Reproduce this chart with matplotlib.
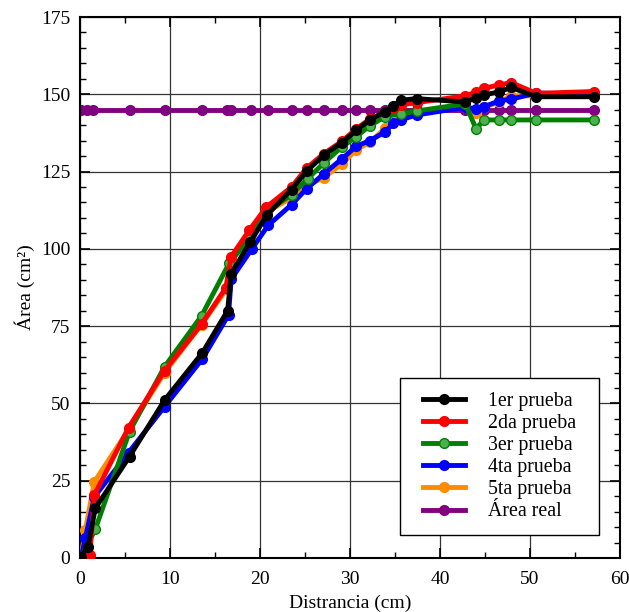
import matplotlib
matplotlib.use("Agg")
import matplotlib.pyplot as plt
from matplotlib.ticker import MultipleLocator
from matplotlib.patches import Rectangle

plt.rcParams['font.family'] = ['Liberation Serif', 'DejaVu Serif']

# 1er prueba
x1 = [0.1, 0.9, 1.7, 5.5, 9.4, 13.6, 16.4, 16.8, 18.9, 20.8, 23.5, 25.2, 27.1, 29.1,
      30.7, 32.2, 33.9, 34.8, 35.7, 37.4, 42.8, 44.0, 44.9, 46.6, 47.9, 50.7, 57.1]
y1 = [0.3, 3.7, 16.1, 32.8, 51.1, 66.4, 80.0, 91.9, 102.2, 111.0, 119.2, 125.2, 130.3, 134.4,
      138.3, 141.7, 144.4, 146.3, 148.1, 148.6, 147.5, 148.8, 149.8, 150.8, 152.2, 149.2, 149.2]
# 2da prueba
x2 = [0.2, 1.1, 1.6, 5.4, 9.4, 13.5, 16.2, 16.8, 18.8, 20.7, 23.5, 25.2, 27.1, 29.1,
      30.7, 32.2, 33.9, 34.8, 35.7, 37.4, 42.8, 44.0, 44.9, 46.6, 47.9, 50.7, 57.1]
y2 = [0.0, 1.0, 20.4, 42.2, 60.6, 75.6, 87.4, 97.5, 106.0, 113.5, 120.0, 126.2, 130.8, 134.8,
      138.8, 142.0, 144.2, 145.5, 146.6, 147.3, 149.5, 150.7, 152.0, 153.0, 153.8, 150.3, 150.9]
# 3er prueba
x3 = [0.1, 1.7, 5.5, 9.4, 13.5, 16.6, 18.9, 20.7, 23.5, 25.3, 27.1, 29.1,
      30.7, 32.2, 33.9, 35.7, 37.4, 42.8, 44.0, 44.9, 46.6, 47.9, 50.7, 57.1]
y3 = [0.0, 9.3, 40.9, 61.9, 78.3, 95.5, 103.5, 112.0, 117.5, 122.7, 127.8, 133.0,
      136.3, 139.8, 142.8, 143.7, 144.6, 146.9, 138.9, 141.7, 141.7, 141.7, 141.7, 141.7]
# 4ta prueba
x4 = [0.1, 0.6, 1.6, 5.4, 9.4, 13.6, 16.5, 16.8, 19.1, 20.9, 23.5, 25.2, 27.1, 29.1,
      30.7, 32.2, 33.9, 34.8, 35.7, 37.4, 42.8, 44.0, 44.9, 46.6, 47.9, 50.7, 57.1]
y4 = [0.0, 6.5, 19.8, 34.1, 49.0, 64.4, 78.6, 90.2, 100.0, 107.6, 114.3, 119.5, 124.3, 129.1,
      133.2, 135.0, 137.8, 140.6, 141.8, 143.3, 145.8, 145.3, 146.0, 147.9, 148.4, 150.4, 150.0]
# 5ta prueba
x5 = [0.1, 0.6, 1.6, 5.4, 9.4, 13.5, 16.3, 16.8, 19.0, 20.8, 23.5, 25.2, 27.1, 29.1,
      30.7, 32.2, 33.9, 35.7, 37.4, 42.8, 44.0, 44.9, 46.6, 47.9, 50.7, 57.1]
y5 = [0.0, 9.1, 24.7, 41.5, 60.0, 75.5, 87.0, 96.5, 104.5, 112.0, 116.5, 120.5, 123.0, 127.5,
      132.0, 134.5, 139.0, 143.2, 144.2, 146.0, 144.0, 145.8, 147.5, 149.5, 149.5, 150.0]
# Área real
x_real = [0.1, 0.8, 1.4, 5.6, 9.4, 13.6, 16.3, 16.8, 19.0, 20.9, 23.6, 25.2, 27.1, 29.1,
          30.7, 32.2, 33.9, 34.8, 35.7, 37.4, 42.8, 44.0, 44.9, 46.6, 47.9, 50.7, 57.1]
area_real = 145.0

fig = plt.figure(figsize=(6.29, 6.12), dpi=100)
ax = fig.add_axes([80/629, 1-558/612, 540/629, 541/612])

lw = 3.5
ms = 7
l6, = ax.plot(x_real, [area_real]*len(x_real), '-o', color='purple', lw=lw, ms=ms, zorder=2)
l5, = ax.plot(x5, y5, '-o', color='darkorange', lw=lw, ms=ms, zorder=3)
l4, = ax.plot(x4, y4, '-o', color='blue', lw=lw, ms=ms, zorder=4)
l3, = ax.plot(x3, y3, '-o', color='green', mfc='#4caf50', mec='green', lw=lw, ms=ms, zorder=5)
l2, = ax.plot(x2, y2, '-o', color='red', lw=lw, ms=ms, zorder=6)
l1, = ax.plot(x1, y1, '-o', color='black', lw=lw, ms=ms, zorder=7)

ax.set_xlim(0, 60)
ax.set_ylim(0, 175)
ax.xaxis.set_major_locator(MultipleLocator(10))
ax.xaxis.set_minor_locator(MultipleLocator(5))
ax.yaxis.set_major_locator(MultipleLocator(25))
ax.yaxis.set_minor_locator(MultipleLocator(5))
ax.tick_params(which='both', direction='in', top=True, right=True, labelsize=14)
ax.tick_params(which='major', length=7, width=1.2)
ax.tick_params(which='minor', length=4, width=1)
ax.tick_params(axis='x', which='major', pad=9)
ax.tick_params(axis='y', which='major', pad=7)
for s in ax.spines.values():
    s.set_linewidth(1.5)
ax.grid(True, which='major', color='#333333', lw=0.9)
ax.set_axisbelow(True)

ax.set_xlabel("Distrancia (cm)", fontsize=14, labelpad=5)
ax.set_ylabel("Área (cm²)", fontsize=14, labelpad=4)

# legend box drawn by hand so padding matches the original
box = Rectangle((0.5926, 0.0425), 0.3694, 0.2902, transform=ax.transAxes,
                facecolor='white', edgecolor='black', lw=1.0, zorder=9)
ax.add_patch(box)
leg = ax.legend([l1, l2, l3, l4, l5, l6],
                ["1er prueba", "2da prueba", "3er prueba", "4ta prueba", "5ta prueba", "Área real"],
                loc='center', bbox_to_anchor=(0.7769, 0.1876), fontsize=14.3,
                frameon=False, handlelength=2.1, borderpad=0, labelspacing=0.16,
                handletextpad=1.15, borderaxespad=0)
leg.set_zorder(10)

fig.savefig("out.png", dpi=100)
